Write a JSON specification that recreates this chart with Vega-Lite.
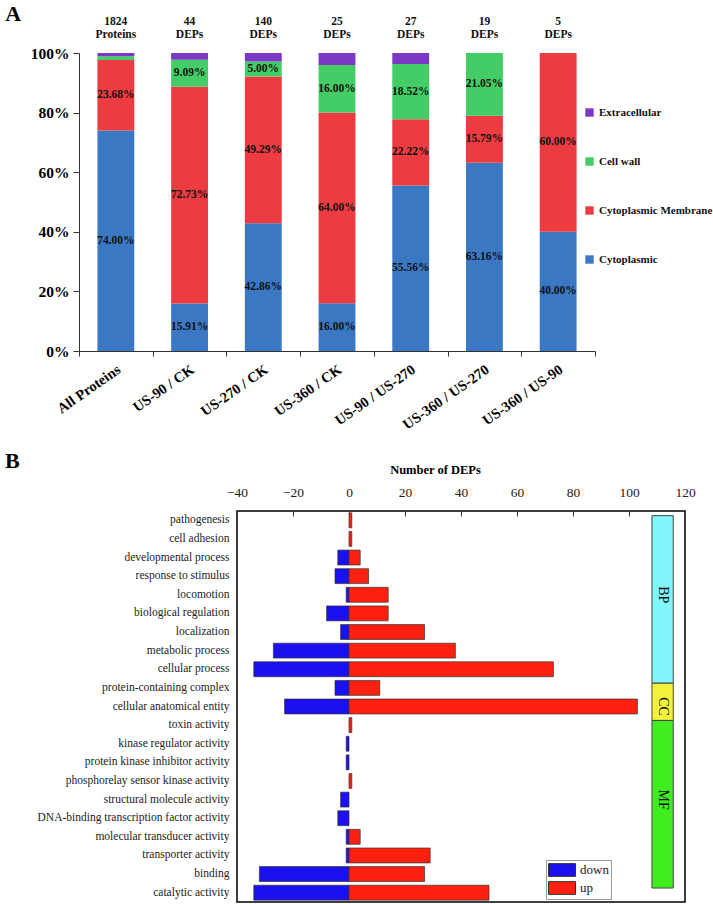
{
  "$schema": "https://vega.github.io/schema/vega-lite/v6.json",
  "background": "white",
  "padding": {"left": 4, "top": 3, "right": 0, "bottom": 0},
  "datasets": {
    "a": [
      {"g": "All Proteins", "loc": "Cytoplasmic", "k": 1, "pct": 74.00, "label": "74.00%"},
      {"g": "All Proteins", "loc": "Cytoplasmic Membrane", "k": 2, "pct": 23.68, "label": "23.68%"},
      {"g": "All Proteins", "loc": "Cell wall", "k": 3, "pct": 1.21, "label": ""},
      {"g": "All Proteins", "loc": "Extracellular", "k": 4, "pct": 1.11, "label": ""},
      {"g": "US-90 / CK", "loc": "Cytoplasmic", "k": 1, "pct": 15.91, "label": "15.91%"},
      {"g": "US-90 / CK", "loc": "Cytoplasmic Membrane", "k": 2, "pct": 72.73, "label": "72.73%"},
      {"g": "US-90 / CK", "loc": "Cell wall", "k": 3, "pct": 9.09, "label": "9.09%"},
      {"g": "US-90 / CK", "loc": "Extracellular", "k": 4, "pct": 2.27, "label": ""},
      {"g": "US-270 / CK", "loc": "Cytoplasmic", "k": 1, "pct": 42.86, "label": "42.86%"},
      {"g": "US-270 / CK", "loc": "Cytoplasmic Membrane", "k": 2, "pct": 49.29, "label": "49.29%"},
      {"g": "US-270 / CK", "loc": "Cell wall", "k": 3, "pct": 5.00, "label": "5.00%"},
      {"g": "US-270 / CK", "loc": "Extracellular", "k": 4, "pct": 2.86, "label": ""},
      {"g": "US-360 / CK", "loc": "Cytoplasmic", "k": 1, "pct": 16.00, "label": "16.00%"},
      {"g": "US-360 / CK", "loc": "Cytoplasmic Membrane", "k": 2, "pct": 64.00, "label": "64.00%"},
      {"g": "US-360 / CK", "loc": "Cell wall", "k": 3, "pct": 16.00, "label": "16.00%"},
      {"g": "US-360 / CK", "loc": "Extracellular", "k": 4, "pct": 4.00, "label": ""},
      {"g": "US-90 / US-270", "loc": "Cytoplasmic", "k": 1, "pct": 55.56, "label": "55.56%"},
      {"g": "US-90 / US-270", "loc": "Cytoplasmic Membrane", "k": 2, "pct": 22.22, "label": "22.22%"},
      {"g": "US-90 / US-270", "loc": "Cell wall", "k": 3, "pct": 18.52, "label": "18.52%"},
      {"g": "US-90 / US-270", "loc": "Extracellular", "k": 4, "pct": 3.70, "label": ""},
      {"g": "US-360 / US-270", "loc": "Cytoplasmic", "k": 1, "pct": 63.16, "label": "63.16%"},
      {"g": "US-360 / US-270", "loc": "Cytoplasmic Membrane", "k": 2, "pct": 15.79, "label": "15.79%"},
      {"g": "US-360 / US-270", "loc": "Cell wall", "k": 3, "pct": 21.05, "label": "21.05%"},
      {"g": "US-360 / US-90", "loc": "Cytoplasmic", "k": 1, "pct": 40.00, "label": "40.00%"},
      {"g": "US-360 / US-90", "loc": "Cytoplasmic Membrane", "k": 2, "pct": 60.00, "label": "60.00%"}
    ],
    "hdr": [
      {"g": "All Proteins", "h": "1824\nProteins"},
      {"g": "US-90 / CK", "h": "44\nDEPs"},
      {"g": "US-270 / CK", "h": "140\nDEPs"},
      {"g": "US-360 / CK", "h": "25\nDEPs"},
      {"g": "US-90 / US-270", "h": "27\nDEPs"},
      {"g": "US-360 / US-270", "h": "19\nDEPs"},
      {"g": "US-360 / US-90", "h": "5\nDEPs"}
    ],
    "b": [
      {"term": "pathogenesis", "dir": "up", "v": 1},
      {"term": "cell adhesion", "dir": "up", "v": 1},
      {"term": "developmental process", "dir": "down", "v": -4},
      {"term": "developmental process", "dir": "up", "v": 4},
      {"term": "response to stimulus", "dir": "down", "v": -5},
      {"term": "response to stimulus", "dir": "up", "v": 7},
      {"term": "locomotion", "dir": "down", "v": -1},
      {"term": "locomotion", "dir": "up", "v": 14},
      {"term": "biological regulation", "dir": "down", "v": -8},
      {"term": "biological regulation", "dir": "up", "v": 14},
      {"term": "localization", "dir": "down", "v": -3},
      {"term": "localization", "dir": "up", "v": 27},
      {"term": "metabolic process", "dir": "down", "v": -27},
      {"term": "metabolic process", "dir": "up", "v": 38},
      {"term": "cellular process", "dir": "down", "v": -34},
      {"term": "cellular process", "dir": "up", "v": 73},
      {"term": "protein-containing complex", "dir": "down", "v": -5},
      {"term": "protein-containing complex", "dir": "up", "v": 11},
      {"term": "cellular anatomical entity", "dir": "down", "v": -23},
      {"term": "cellular anatomical entity", "dir": "up", "v": 103},
      {"term": "toxin activity", "dir": "up", "v": 1},
      {"term": "kinase regulator activity", "dir": "down", "v": -1},
      {"term": "protein kinase inhibitor activity", "dir": "down", "v": -1},
      {"term": "phosphorelay sensor kinase activity", "dir": "up", "v": 1},
      {"term": "structural molecule activity", "dir": "down", "v": -3},
      {"term": "DNA-binding transcription factor activity", "dir": "down", "v": -4},
      {"term": "molecular transducer activity", "dir": "down", "v": -1},
      {"term": "molecular transducer activity", "dir": "up", "v": 4},
      {"term": "transporter activity", "dir": "down", "v": -1},
      {"term": "transporter activity", "dir": "up", "v": 29},
      {"term": "binding", "dir": "down", "v": -32},
      {"term": "binding", "dir": "up", "v": 27},
      {"term": "catalytic activity", "dir": "down", "v": -34},
      {"term": "catalytic activity", "dir": "up", "v": 50}
    ],
    "box": [
      {"grp": "BP", "s": "pathogenesis", "e": "protein-containing complex", "m": "locomotion"},
      {"grp": "CC", "s": "protein-containing complex", "e": "toxin activity", "m": "cellular anatomical entity"},
      {"grp": "MF", "s": "toxin activity", "e": "catalytic activity", "m": "structural molecule activity"}
    ]
  },
  "resolve": {"scale": {"color": "independent"}, "legend": {"color": "independent"}},
  "spacing": 17,
  "vconcat": [
    {
      "width": 516,
      "height": 298,
      "view": {"stroke": null},
      "title": {"text": "A", "anchor": "start", "frame": "bounds", "font": "Liberation Serif", "fontSize": 22, "fontWeight": "bold", "color": "black", "dx": -25, "offset": -10},
      "encoding": {
        "x": {"field": "g", "type": "nominal",
          "scale": {"domain": ["All Proteins", "US-90 / CK", "US-270 / CK", "US-360 / CK", "US-90 / US-270", "US-360 / US-270", "US-360 / US-90"], "paddingInner": 0, "paddingOuter": 0},
          "axis": {"title": null, "labelAngle": -35, "labelAlign": "right", "labelBaseline": "middle", "labelFont": "Liberation Serif", "labelFontWeight": "bold", "labelFontSize": 14.5, "labelColor": "black", "tickBand": "extent", "domainColor": "#333", "tickColor": "#333", "tickSize": 5, "labelPadding": 12, "labelOffset": 3}}
      },
      "layer": [
        {
          "data": {"name": "a"},
          "mark": {"type": "bar", "width": {"band": 0.5}},
          "encoding": {
            "y": {"field": "pct", "type": "quantitative", "stack": "normalize", "scale": {"domain": [0, 1]},
              "axis": {"title": null, "format": ".0%", "values": [0, 0.2, 0.4, 0.6, 0.8, 1], "labelFont": "Liberation Serif", "labelFontWeight": "bold", "labelFontSize": 15.5, "labelColor": "black", "grid": false, "domainColor": "#333", "tickColor": "#333", "tickSize": 6, "labelPadding": 4}},
            "color": {"field": "loc", "type": "nominal",
              "scale": {"domain": ["Cytoplasmic", "Cytoplasmic Membrane", "Cell wall", "Extracellular"], "range": ["#3b78c4", "#ec3c42", "#44cc66", "#7a38c4"]},
              "legend": {"orient": "none", "legendX": 505, "legendY": 54, "title": null, "values": ["Extracellular", "Cell wall", "Cytoplasmic Membrane", "Cytoplasmic"], "symbolType": "square", "symbolSize": 70, "symbolStrokeWidth": 0, "labelFont": "Liberation Serif", "labelFontWeight": "bold", "labelFontSize": 11, "labelColor": "#111", "rowPadding": 37, "labelOffset": 4, "labelLimit": 200}},
            "order": {"field": "k"}
          }
        },
        {
          "data": {"name": "a"},
          "mark": {"type": "text", "font": "Liberation Serif", "fontWeight": "bold", "fontSize": 11.5, "color": "#111"},
          "encoding": {
            "y": {"field": "pct", "type": "quantitative", "stack": "normalize", "bandPosition": 0.5},
            "detail": {"field": "loc"},
            "order": {"field": "k"},
            "text": {"field": "label"}
          }
        },
        {
          "data": {"name": "hdr"},
          "mark": {"type": "text", "font": "Liberation Serif", "fontWeight": "bold", "fontSize": 11.5, "color": "#111", "lineBreak": "\n", "lineHeight": 13, "baseline": "bottom", "dy": -26},
          "encoding": {
            "y": {"datum": 1},
            "text": {"field": "h"}
          }
        }
      ]
    },
    {
      "hconcat": [
        {
          "width": 1,
          "height": 10,
          "view": {"stroke": null},
          "data": {"values": [{}]},
          "mark": {"type": "point", "opacity": 0}
        },
        {
          "width": 448,
          "height": 391,
          "view": {"stroke": "black", "strokeWidth": 1.5},
          "title": {"text": "B", "anchor": "start", "frame": "bounds", "font": "Liberation Serif", "fontSize": 22, "fontWeight": "bold", "color": "black", "dx": -32, "offset": -10},
          "encoding": {
            "y": {"field": "term", "type": "nominal",
              "scale": {"domain": ["pathogenesis", "cell adhesion", "developmental process", "response to stimulus", "locomotion", "biological regulation", "localization", "metabolic process", "cellular process", "protein-containing complex", "cellular anatomical entity", "toxin activity", "kinase regulator activity", "protein kinase inhibitor activity", "phosphorelay sensor kinase activity", "structural molecule activity", "DNA-binding transcription factor activity", "molecular transducer activity", "transporter activity", "binding", "catalytic activity"], "paddingInner": 0, "paddingOuter": 0},
              "axis": {"title": null, "labelFont": "Liberation Serif", "labelFontSize": 11.5, "labelColor": "#222", "ticks": false, "domain": false, "labelPadding": 8, "labelLimit": 300}}
          },
          "layer": [
            {
              "data": {"name": "b"},
              "mark": {"type": "bar", "height": {"band": 0.8}, "stroke": "#333", "strokeWidth": 0.7},
              "encoding": {
                "x": {"field": "v", "type": "quantitative", "scale": {"domain": [-40, 120], "nice": false},
                  "axis": {"orient": "top", "title": "Number of DEPs", "titleFont": "Liberation Serif", "titleFontWeight": "bold", "titleFontSize": 12.5, "titleColor": "black", "titlePadding": 9, "titleX": 198, "labelFont": "Liberation Serif", "labelFontSize": 13.5, "labelColor": "#222", "values": [-40, -20, 0, 20, 40, 60, 80, 100, 120], "domain": false, "tickColor": "#333", "tickSize": -5, "labelPadding": 17, "grid": false, "labelFlush": false}},
                "color": {"field": "dir", "type": "nominal",
                  "scale": {"domain": ["down", "up"], "range": ["#1a10f0", "#ff2010"]},
                  "legend": {"orient": "none", "legendX": 309, "legendY": 349, "title": null, "symbolType": "M-1.8,-0.85H1.8V0.85H-1.8Z", "symbolSize": 225, "symbolOffset": 6, "symbolStrokeColor": "#333", "symbolStrokeWidth": 1, "labelFont": "Liberation Serif", "labelFontSize": 13, "labelColor": "#222", "strokeColor": "#999", "padding": 2, "rowPadding": 0, "labelOffset": 10}}
              }
            },
            {
              "data": {"name": "box"},
              "mark": {"type": "rect", "stroke": "#444", "strokeWidth": 1},
              "encoding": {
                "y": {"field": "s", "type": "nominal", "bandPosition": 0.25},
                "y2": {"field": "e", "bandPosition": 0.25},
                "x": {"datum": 108.2},
                "x2": {"datum": 115.8},
                "fill": {"field": "grp", "type": "nominal", "scale": {"domain": ["BP", "CC", "MF"], "range": ["#80f6fa", "#f2f23c", "#40ee20"]}, "legend": null}
              }
            },
            {
              "data": {"name": "box"},
              "mark": {"type": "text", "angle": 90, "font": "Liberation Serif", "fontSize": 14, "color": "#111"},
              "encoding": {
                "y": {"field": "m", "type": "nominal"},
                "x": {"datum": 112},
                "text": {"field": "grp"}
              }
            }
          ]
        }
      ],
      "spacing": 157,
      "bounds": "flush",
      "resolve": {"scale": {"color": "independent"}, "legend": {"color": "independent"}}
    }
  ]
}
